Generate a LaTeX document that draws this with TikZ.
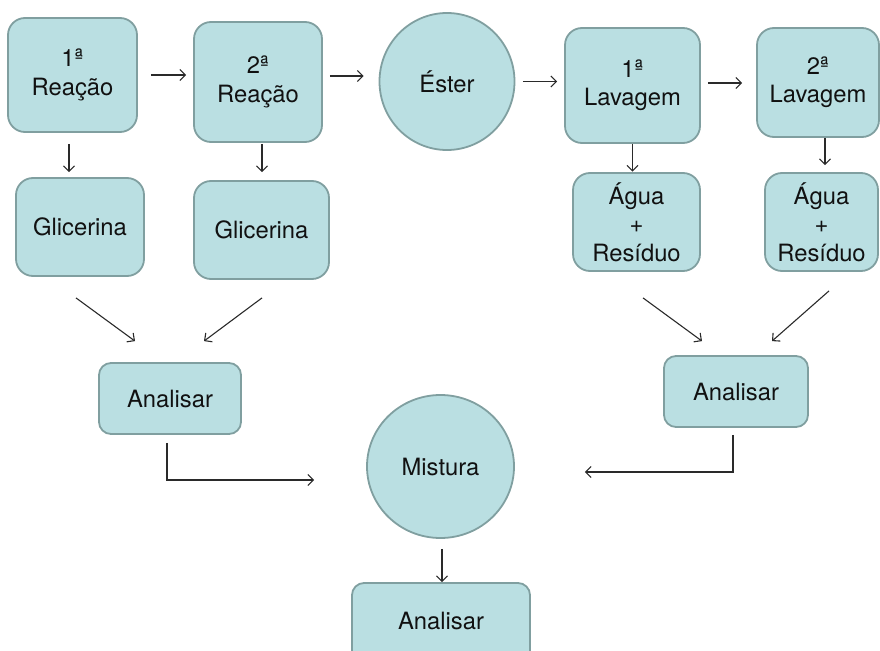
\documentclass[tikz,border=0pt]{standalone}
\usepackage{fontspec}
\setmainfont{TeX Gyre Heros}
\usetikzlibrary{arrows.meta,calc,shapes.geometric}
\definecolor{boxfill}{HTML}{BADFE2}
\definecolor{boxline}{HTML}{809FA0}
\definecolor{txt}{HTML}{111111}
\definecolor{arr}{HTML}{2A2A2A}
\begin{document}
\begin{tikzpicture}[x=1pt,y=-1pt,
  every node/.style={font=\fontsize{23.8}{28.5}\selectfont,text=txt,align=center,inner sep=0pt},
  box/.style={draw=boxline,line width=1.8pt,fill=boxfill,rounded corners=17pt},
  smallbox/.style={box,rounded corners=12pt},
  roundnode/.style={draw=boxline,line width=1.8pt,fill=boxfill,ellipse},
  conn/.style={draw=arr,line width=1.1pt,-{Straight Barb[length=5.5pt,width=11pt]}}
]
\useasboundingbox (0,0) rectangle (880,650);
% nodes
\node[box,minimum width=129pt,minimum height=114pt] (r1) at (72.5,75) {1ª\\Reação};
\node[box,minimum width=128pt,minimum height=120pt] (r2) at (258,82) {2ª\\Reação};
\node[box,minimum width=128pt,minimum height=98pt] (g1) at (80,227) {Glicerina};
\node[box,minimum width=135pt,minimum height=98pt] (g2) at (261.5,230) {Glicerina};
\node[roundnode,minimum width=135pt,minimum height=137pt] (ester) at (447,81.5) {Éster};
\node[box,minimum width=135pt,minimum height=115pt] (l1) at (632.5,85.5) {1ª\\Lavagem};
\node[box,minimum width=122pt,minimum height=109pt] (l2) at (818,82.5) {2ª\\Lavagem};
\node[box,minimum width=127pt,minimum height=98pt] (a1) at (636.5,222) {Água\\+\\Resíduo};
\node[box,minimum width=113pt,minimum height=98pt] (a2) at (821.5,222) {Água\\+\\Resíduo};
\node[smallbox,minimum width=142pt,minimum height=71pt] (an1) at (170,398.5) {Analisar};
\node[smallbox,minimum width=144pt,minimum height=71pt] (an2) at (736,391.5) {Analisar};
\node[roundnode,minimum width=147pt,minimum height=143pt] (mist) at (440.5,466.5) {Mistura};
\node[smallbox,minimum width=178pt,minimum height=80pt] (an3) at (441,623) {\raisebox{4pt}{Analisar}};
% horizontal arrows
\draw[conn,shorten <=13pt,shorten >=7pt] (r1.east) -- (r1.east -| r2.west);
\draw[conn,shorten <=7pt,shorten >=15pt] ([yshift=6pt]r2.east) -- ([yshift=6pt]r2.east -| ester.west);
\draw[conn,shorten <=7.5pt,shorten >=7pt] (ester.east) -- (ester.east -| l1.west);
\draw[conn,shorten <=7pt,shorten >=14pt] ([yshift=2.5pt]l1.east) -- ([yshift=2.5pt]l1.east -| l2.west);
% vertical arrows
\draw[conn,shorten <=11pt,shorten >=5pt] ([xshift=-3.5pt]r1.south) -- ([xshift=-3.5pt]r1.south |- g1.north);
\draw[conn,shorten <=1pt,shorten >=8pt] ([xshift=4pt]r2.south) -- ([xshift=4pt]r2.south |- g2.north);
\draw[conn,shorten >=0.5pt] (l1.south) -- (l1.south |- a1.north);
\draw[conn,shorten >=7pt] ([xshift=7pt]l2.south) -- ([xshift=7pt]l2.south |- a2.north);
% diagonal arrows
\draw[conn] ($(g1.south)+(-4,21)$) -- ($(an1.north)+(-35,-21)$);
\draw[conn] ($(g2.south)+(0.5,18)$) -- ($(an1.north)+(34,-21)$);
\draw[conn] ($(a1.south)+(6.5,26)$) -- ($(an2.north)+(-34,-14)$);
\draw[conn] ($(a2.south)+(7.5,19)$) -- ($(an2.north)+(36,-14)$);
% elbow arrows
\draw[conn] ($(an1.south)+(-3,8)$) |- ($(mist.west)+(-52,13.5)$);
\draw[conn] ($(an2.south)+(-3,7)$) |- ($(mist.east)+(70,5.5)$);
% bottom
\draw[conn,shorten <=10pt] ([xshift=1.5pt]mist.south) -- ([xshift=1.5pt]mist.south |- an3.north);
\end{tikzpicture}
\end{document}
